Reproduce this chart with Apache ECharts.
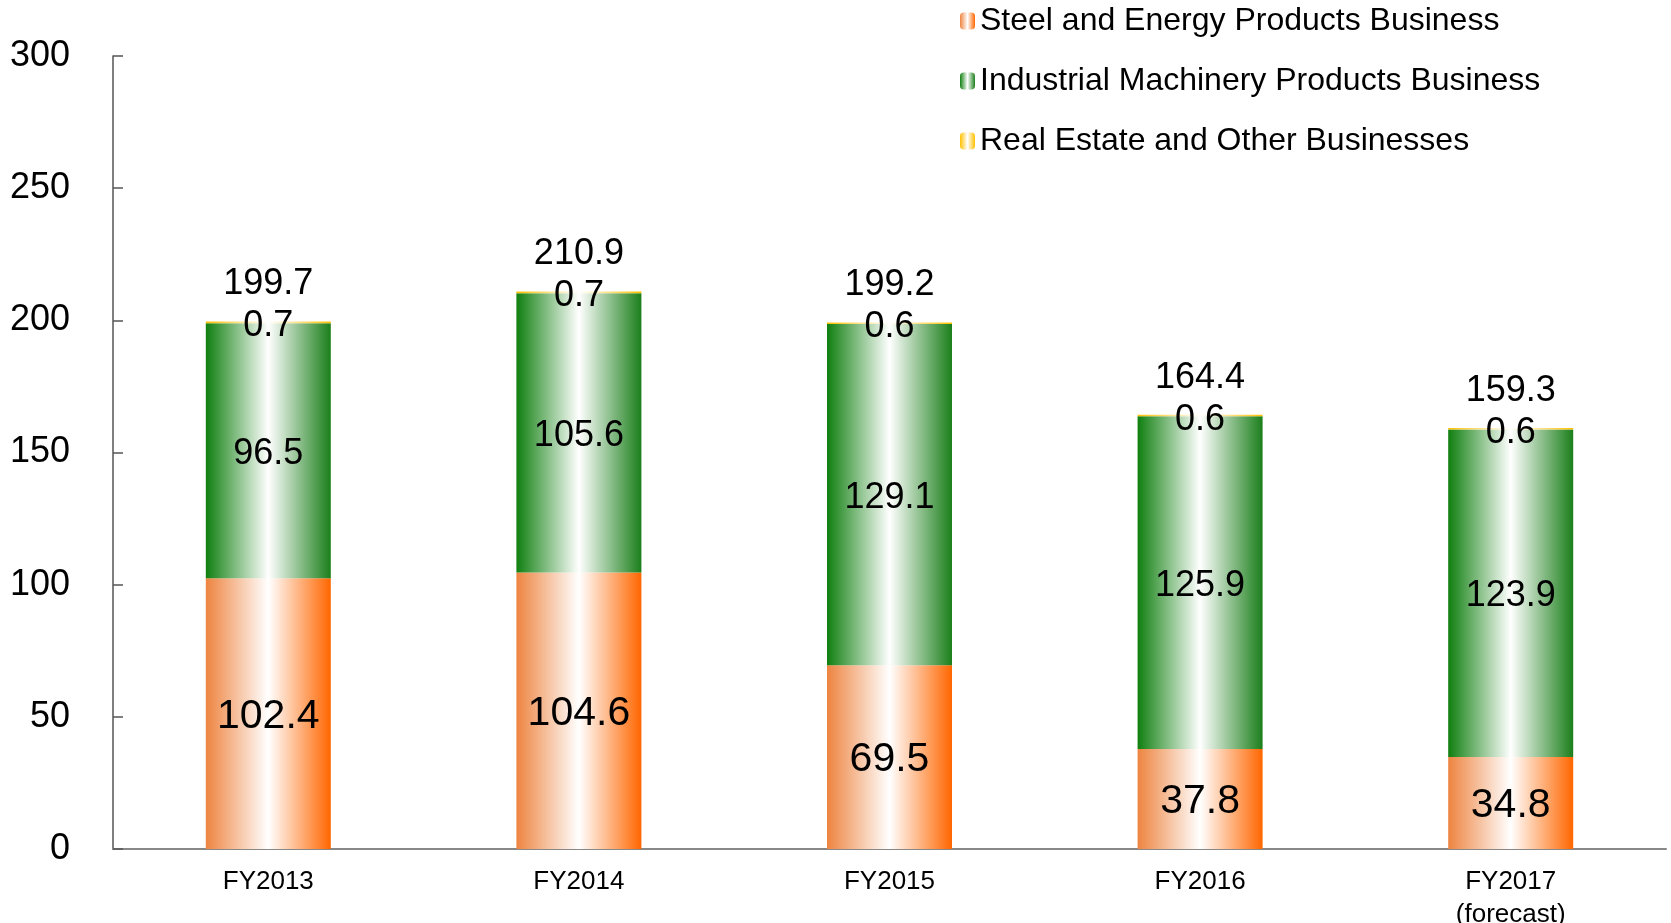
<!DOCTYPE html>
<html>
<head>
<meta charset="utf-8">
<script src="https://cdn.jsdelivr.net/npm/echarts@6/dist/echarts.min.js"></script>
<style>
  html, body { margin: 0; padding: 0; background: #fff; }
  #chart { width: 1671px; height: 923px; }
</style>
</head>
<body>
<div id="chart"></div>
<script>
  // 年度
  const years = ['FY2013', 'FY2014', 'FY2015', 'FY2016', 'FY2017\n(forecast)'];
  const steel = [102.4, 104.6, 69.5, 37.8, 34.8];
  const machinery = [96.5, 105.6, 129.1, 125.9, 123.9];
  const realEstate = [0.7, 0.7, 0.6, 0.6, 0.6];
  const totals = [199.7, 210.9, 199.2, 164.4, 159.3];
  const yTicks = [0, 50, 100, 150, 200, 250, 300];

  const font = '"Liberation Sans", Arial, sans-serif';

  function stripe (edgeL, edgeR) {
    return {
      type: 'linear', x: 0, y: 0, x2: 1, y2: 0,
      colorStops: [
        { offset: 0, color: edgeL },
        { offset: 0.5, color: '#ffffff' },
        { offset: 1, color: edgeR }
      ]
    };
  }

  const chart = echarts.init(document.getElementById('chart'));
  chart.setOption({
    animation: false,
    textStyle: { fontFamily: font },
    grid: { // 边框距离
      left: 113,
      right: 5,
      top: 56,
      bottom: 74,
      outerBoundsMode: 'none'
    },
    legend: {
      orient: 'vertical',
      left: 955,
      top: -1,
      itemWidth: 15,
      itemHeight: 17,
      itemGap: 26,
      selectedMode: false,
      textStyle: { fontSize: 32, color: '#000', fontFamily: font, lineHeight: 34 },
      data: ['Steel and Energy Products Business', 'Industrial Machinery Products Business', 'Real Estate and Other Businesses']
    },
    xAxis: {
      type: 'category',
      data: years,
      axisLine: { lineStyle: { color: '#888', width: 2 } },
      axisTick: { inside: true, length: 8, lineStyle: { color: '#222', width: 2 } },
      axisLabel: { fontSize: 26, color: '#000', lineHeight: 33, margin: 16 }
    },
    yAxis: {
      type: 'value',
      min: yTicks[0],
      max: yTicks[yTicks.length - 1],
      interval: 50,
      splitLine: { show: false },
      axisLine: { show: true, lineStyle: { color: '#555', width: 1.5 } },
      axisTick: { show: true, inside: true, length: 10, lineStyle: { color: '#555', width: 1.5 } },
      axisLabel: { fontSize: 36, color: '#000', margin: 43 }
    },
    series: [
      {
        name: 'Steel and Energy Products Business',
        type: 'bar',
        stack: 'sales',
        barWidth: 125,
        data: steel,
        itemStyle: { color: stripe('#ee8440', '#ff6600') },
        label: { show: true, position: 'inside', offset: [0, 3], fontSize: 41, color: '#000' }
      },
      {
        name: 'Industrial Machinery Products Business',
        type: 'bar',
        stack: 'sales',
        data: machinery,
        itemStyle: { color: stripe('#0f7f0f', '#1b7f1b') },
        label: { show: true, position: 'inside', offset: [0, 3], fontSize: 36, color: '#000' }
      },
      {
        name: 'Real Estate and Other Businesses',
        type: 'bar',
        stack: 'sales',
        data: realEstate,
        itemStyle: { color: stripe('#ffc000', '#ffc000') },
        label: {
          show: true,
          position: 'top',
          distance: 0,
          offset: [0, 26],
          color: '#000',
          formatter: (p) => '{t|' + totals[p.dataIndex] + '}\n{v|' + p.value + '}',
          rich: {
            t: { fontSize: 36, lineHeight: 42, color: '#000', fontFamily: font },
            v: { fontSize: 36, lineHeight: 42, color: '#000', fontFamily: font }
          }
        }
      }
    ]
  });
</script>
</body>
</html>
